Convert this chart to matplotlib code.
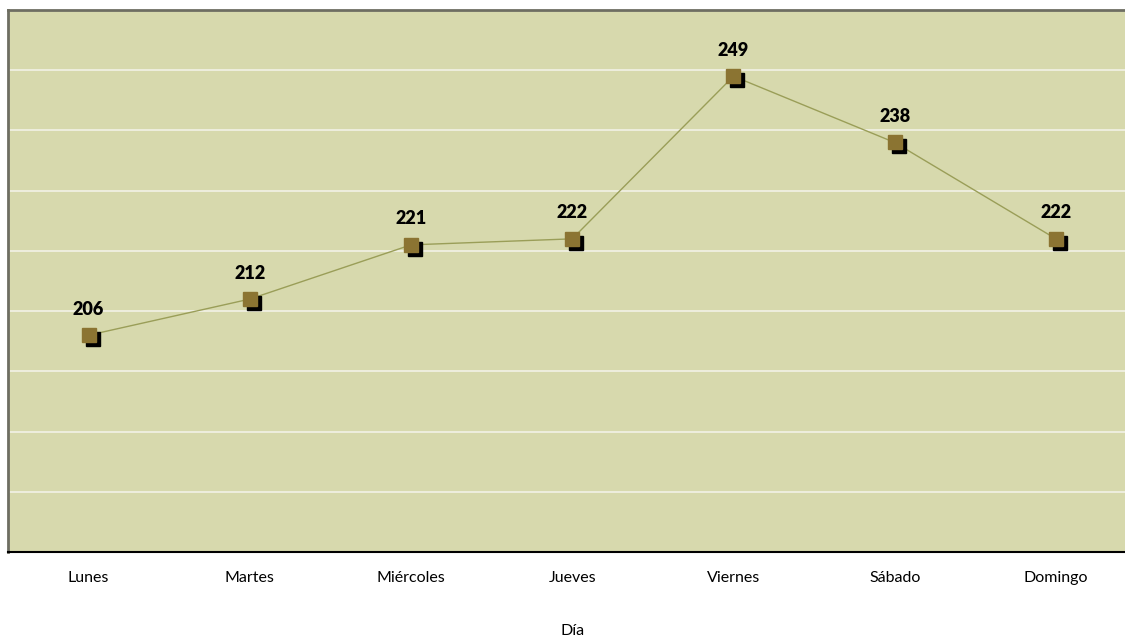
import matplotlib
matplotlib.use("Agg")
import matplotlib.pyplot as plt
import matplotlib.transforms as mtransforms

dias = ["Lunes", "Martes", "Miércoles", "Jueves", "Viernes", "Sábado", "Domingo"]
valores = [206, 212, 221, 222, 249, 238, 222]
x_titulo = "Día"

W, H = 1125, 637
fig = plt.figure(figsize=(W / 100, H / 100), dpi=100)
left, right, top, bottom = 8, 1136.5, 10, 552
ax = fig.add_axes([left / W, (H - bottom) / H, (right - left) / W, (bottom - top) / H])
ax.set_facecolor("#D7D9AD")

xs = list(range(len(dias)))
ax.set_xlim(-0.5, len(dias) - 0.5)
ax.set_ylim(170, 260)
ax.set_yticks(range(180, 260, 10))
ax.yaxis.grid(True, color="#F2F2E6", linewidth=1.2)
ax.set_axisbelow(True)
ax.tick_params(axis="y", left=False, labelleft=False)
ax.tick_params(axis="x", length=0, pad=14, labelsize=11.5)
ax.set_xticks(xs)
ax.set_xticklabels(dias, fontfamily="Lato")
ax.set_xlabel(x_titulo, fontfamily="Lato", fontsize=11.5, labelpad=28)

for side in ["top", "left"]:
    ax.spines[side].set_color("#6E6E62")
    ax.spines[side].set_linewidth(2)
ax.spines["right"].set_visible(False)
ax.spines["bottom"].set_color("black")
ax.spines["bottom"].set_linewidth(1.5)

ax.plot(xs, valores, color="#9A9E58", linewidth=1, zorder=2)
shadow = mtransforms.offset_copy(ax.transData, fig=fig, x=4, y=-4, units="dots")
ax.plot(xs, valores, linestyle="none", marker="s", markersize=9.5,
        color="black", transform=shadow, zorder=3)
ax.plot(xs, valores, linestyle="none", marker="s", markersize=9.5,
        markerfacecolor="#8B7432", markeredgecolor="#8B7432", zorder=4)

for x, v in zip(xs, valores):
    ax.annotate(str(v), (x, v), xytext=(0, 26), textcoords="offset pixels",
                ha="center", va="center", fontsize=13, fontweight="heavy",
                fontfamily="Lato", color="black")

fig.savefig("out.png", dpi=100, facecolor="white")
